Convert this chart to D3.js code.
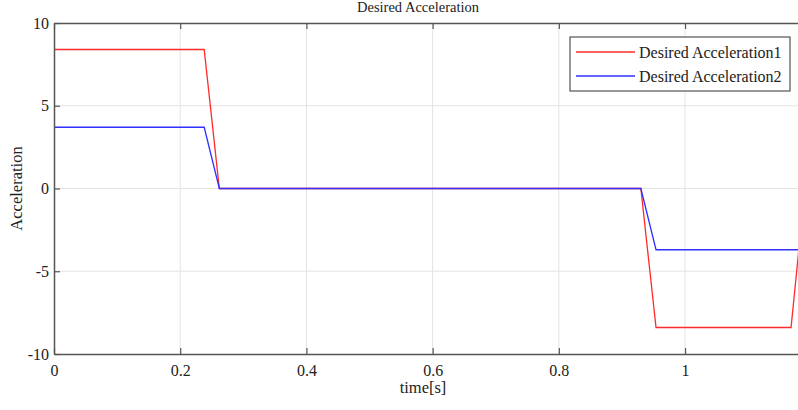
<!DOCTYPE html>
<html>
<head>
<meta charset="utf-8">
<script src="https://cdn.jsdelivr.net/npm/d3@7"></script>
<style>
  body { margin: 0; background: #fff; }
  svg { display: block; font-family: "Liberation Serif", "Times New Roman", serif; }
</style>
</head>
<body>
<svg id="chart"></svg>
<script>
// series values
const acc1Time = [0, 0.238, 0.262, 0.930, 0.954, 1.168, 1.190];
const acc1Value = [8.4, 8.4, 0, 0, -8.4, -8.4, 0];
const acc2Time = [0, 0.238, 0.262, 0.930, 0.954, 1.18];
const acc2Value = [3.7, 3.7, 0, 0, -3.7, -3.7];
const seriesNames = ["Desired Acceleration1", "Desired Acceleration2"];
const xTicks = [0, 0.2, 0.4, 0.6, 0.8, 1];
const yTicks = [-10, -5, 0, 5, 10];

const width = 798;
const height = 410;
const margin = { top: 23, right: 0, bottom: 56, left: 54 };
const serif = '"Liberation Serif", "Times New Roman", serif';

const svg = d3.select("#chart").attr("width", width).attr("height", height);

const x = d3.scaleLinear().domain([0, 1.179]).range([margin.left, width - margin.right]);
const y = d3.scaleLinear().domain([-10, 10]).range([height - margin.bottom, margin.top]);

const series = [
  { name: seriesNames[0], color: "#ff2a2a", pts: acc1Time.map((t, i) => [t, acc1Value[i]]) },
  { name: seriesNames[1], color: "#3030ff", pts: acc2Time.map((t, i) => [t, acc2Value[i]]) },
];

svg.append("defs").append("clipPath").attr("id", "clip")
  .append("rect")
  .attr("x", margin.left).attr("y", margin.top)
  .attr("width", width - margin.right - margin.left)
  .attr("height", height - margin.bottom - margin.top);

// grid
const grid = svg.append("g").attr("stroke", "#e3e3e3").attr("stroke-width", 1);
grid.selectAll(".vg").data(xTicks.slice(1)).enter().append("line")
  .attr("x1", (d) => x(d)).attr("x2", (d) => x(d))
  .attr("y1", margin.top).attr("y2", height - margin.bottom);
grid.selectAll(".hg").data(yTicks.slice(1, -1)).enter().append("line")
  .attr("x1", margin.left).attr("x2", width - margin.right)
  .attr("y1", (d) => y(d)).attr("y2", (d) => y(d));

// lines
const line = d3.line().x((d) => x(d[0])).y((d) => y(d[1]));
svg.append("g").attr("clip-path", "url(#clip)")
  .selectAll("path").data(series).enter().append("path")
  .attr("d", (d) => line(d.pts))
  .attr("fill", "none")
  .attr("stroke", (d) => d.color)
  .attr("stroke-width", 1.3);

// axes (box with inward ticks)
function styleAxis(g) {
  g.attr("font-family", serif).attr("font-size", 16);
  g.select(".domain").attr("stroke", "#555").attr("stroke-width", 1.5);
  g.selectAll(".tick line").attr("stroke", "#555").attr("stroke-width", 1.2);
  g.selectAll(".tick text").attr("fill", "#222");
}
const fmt = (d) => String(d);

svg.append("g")
  .attr("transform", `translate(0,${height - margin.bottom})`)
  .call(d3.axisBottom(x).tickValues(xTicks).tickFormat(fmt).tickSizeInner(-6).tickSizeOuter(0).tickPadding(11))
  .call(styleAxis);

svg.append("g")
  .attr("transform", `translate(0,${margin.top})`)
  .call(d3.axisTop(x).tickValues(xTicks).tickFormat("").tickSizeInner(-6).tickSizeOuter(0))
  .call(styleAxis);

svg.append("g")
  .attr("transform", `translate(${margin.left},0)`)
  .call(d3.axisLeft(y).tickValues(yTicks).tickFormat(fmt).tickSizeInner(-6).tickSizeOuter(0).tickPadding(5))
  .call(styleAxis);

// labels
svg.append("text")
  .attr("x", 418)
  .attr("y", 12)
  .attr("text-anchor", "middle")
  .style("font-size", "14.5px")
  .attr("fill", "#222")
  .text("Desired Acceleration");

svg.append("text")
  .attr("x", 423)
  .attr("y", 393)
  .attr("text-anchor", "middle")
  .style("font-size", "16.5px")
  .attr("fill", "#222")
  .text("time[s]");

svg.append("text")
  .attr("transform", `translate(22,${y(0)}) rotate(-90)`)
  .attr("text-anchor", "middle")
  .style("font-size", "16.5px")
  .attr("fill", "#222")
  .text("Acceleration");

// legend
const legend = svg.append("g").attr("transform", "translate(570,37)");
legend.append("rect")
  .attr("width", 220).attr("height", 54)
  .attr("fill", "#fff").attr("stroke", "#333").attr("stroke-width", 1);
const item = legend.selectAll(".item").data(series).enter().append("g")
  .attr("transform", (d, i) => `translate(0,${15 + i * 24})`);
item.append("line")
  .attr("x1", 6).attr("x2", 65)
  .attr("stroke", (d) => d.color).attr("stroke-width", 1.3);
item.append("text")
  .attr("x", 69).attr("dy", "0.35em")
  .style("font-size", "16px")
  .attr("fill", "#222")
  .text((d) => d.name);
</script>
</body>
</html>
